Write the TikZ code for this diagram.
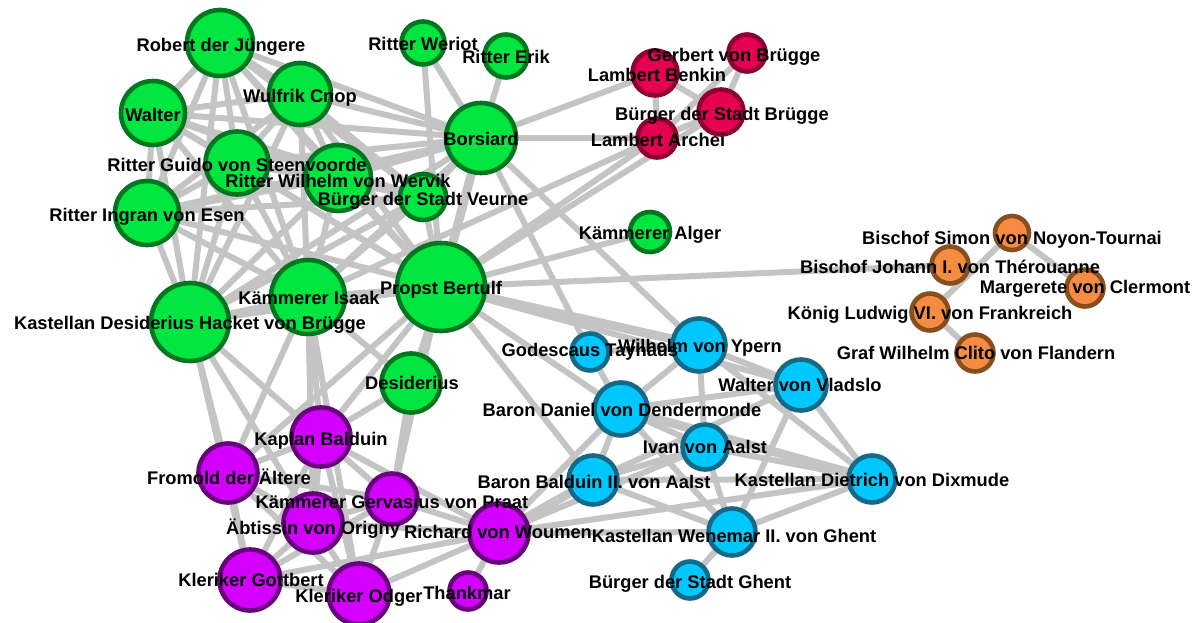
\documentclass[tikz,border=0pt]{standalone}
\usepackage{fontspec}
\setmainfont{Liberation Sans}
\definecolor{edgec}{RGB}{196,196,196}
\definecolor{gfill}{RGB}{0,230,64}
\definecolor{gline}{RGB}{0,118,32}
\definecolor{rfill}{RGB}{230,0,82}
\definecolor{rline}{RGB}{140,0,50}
\definecolor{pfill}{RGB}{212,0,255}
\definecolor{pline}{RGB}{105,0,125}
\definecolor{bfill}{RGB}{0,200,255}
\definecolor{bline}{RGB}{20,105,135}
\definecolor{ofill}{RGB}{245,140,66}
\definecolor{oline}{RGB}{135,78,30}
\pgfdeclarelayer{bg}
\pgfsetlayers{bg,main}
\tikzset{
  vx/.style={circle,draw,line width=4.6pt,inner sep=0pt},
  gv/.style={vx,fill=gfill,draw=gline},
  rv/.style={vx,fill=rfill,draw=rline},
  pv/.style={vx,fill=pfill,draw=pline},
  bv/.style={vx,fill=bfill,draw=bline},
  ov/.style={vx,fill=ofill,draw=oline},
  edge/.style={draw=edgec,line width=6pt},
  thick edge/.style={draw=edgec,line width=9pt},
  lbl/.style={font=\fontsize{18.3}{20}\selectfont\bfseries,text=black,inner sep=0pt,anchor=center}
}
\newcommand\vtx[5]{\node[#2,minimum size=#5pt] (#1) at (#3,#4) {};}
\begin{document}
\begin{tikzpicture}[x=1pt,y=-1pt]
\useasboundingbox (0,0) rectangle (1200,623);
% green
\vtx{rob}{gv}{220}{43}{66}
\vtx{wul}{gv}{300}{94}{62}
\vtx{wal}{gv}{153}{113}{64}
\vtx{gui}{gv}{237}{163}{63}
\vtx{wer}{gv}{338}{178}{66}
\vtx{veu}{gv}{423}{197}{46}
\vtx{ing}{gv}{147}{213}{64}
\vtx{kde}{gv}{190}{322}{78}
\vtx{isa}{gv}{308}{297}{74}
\vtx{ber}{gv}{441}{287}{88}
\vtx{bor}{gv}{481}{138}{70}
\vtx{wrt}{gv}{423}{43}{43}
\vtx{eri}{gv}{506}{56}{43}
\vtx{alg}{gv}{650}{232}{40}
\vtx{des}{gv}{411}{383}{59}
% red
\vtx{ben}{rv}{655}{73}{45}
\vtx{gbt}{rv}{747}{53}{37}
\vtx{brg}{rv}{721}{112}{45}
\vtx{arc}{rv}{657}{138}{39}
% orange
\vtx{sim}{ov}{1012}{233}{34}
\vtx{joh}{ov}{950}{265}{37}
\vtx{mar}{ov}{1085}{288}{37}
\vtx{lud}{ov}{930}{312}{37}
\vtx{cli}{ov}{975}{353}{37}
% blue
\vtx{ypr}{bv}{699}{345}{53}
\vtx{god}{bv}{590}{352}{37}
\vtx{vla}{bv}{801}{385}{51}
\vtx{dan}{bv}{621}{409}{53}
\vtx{iva}{bv}{705}{447}{45}
\vtx{bal}{bv}{593}{480}{49}
\vtx{die}{bv}{872}{479}{47}
\vtx{wen}{bv}{732}{532}{47}
\vtx{gh}{bv}{690}{580}{37}
% purple
\vtx{kap}{pv}{321}{437}{59}
\vtx{fro}{pv}{228}{473}{59}
\vtx{gvs}{pv}{392}{499}{51}
\vtx{abt}{pv}{313}{523}{59}
\vtx{ric}{pv}{499}{533}{59}
\vtx{got}{pv}{250}{580}{61}
\vtx{odg}{pv}{359}{594}{61}
\vtx{tha}{pv}{468}{591}{37}

\begin{pgfonlayer}{bg}
\fill[white] (0,0) rectangle (1200,623);
\foreach \a/\b in {rob/wal,rob/wul,rob/gui,rob/wer,rob/veu,rob/ing,rob/kde,rob/isa,rob/ber,rob/bor,
  wal/wul,wal/gui,wal/wer,wal/veu,wal/ing,wal/kde,wal/isa,wal/ber,wal/bor,
  wul/gui,wul/wer,wul/veu,wul/ing,wul/kde,wul/isa,wul/ber,wul/bor,
  gui/wer,gui/veu,gui/ing,gui/kde,gui/isa,gui/ber,gui/bor,
  wer/veu,wer/ing,wer/kde,wer/isa,wer/ber,wer/bor,
  veu/ing,veu/kde,veu/isa,veu/ber,veu/bor,
  ing/kde,ing/isa,ing/ber,ing/bor,
  kde/isa,kde/ber,kde/bor,isa/ber,isa/bor,
  wrt/bor,wrt/ber,eri/bor,
  bor/ben,bor/arc,ber/arc,ber/brg,isa/arc,ben/brg,gbt/brg,gbt/arc,ben/arc,brg/arc,
  ber/alg,ber/joh,sim/lud,sim/mar,lud/cli,
  ber/vla,ber/dan,ber/bal,bor/ypr,bor/god,
  ber/des,isa/des,des/kap,des/gvs,
  kde/fro,kde/kap,kde/got,kde/abt,isa/fro,isa/kap,isa/abt,isa/odg,ber/kap,ber/fro,ber/gvs,
  fro/kap,fro/abt,fro/got,fro/odg,fro/gvs,kap/abt,kap/gvs,kap/odg,kap/got,kap/ric,
  gvs/abt,gvs/ric,gvs/odg,gvs/got,abt/got,abt/odg,abt/ric,got/odg,got/ric,odg/ric,ric/tha,
  ric/dan,ric/wen,ric/die,ric/iva,
  god/ypr,god/dan,ypr/dan,ypr/vla,ypr/iva,ypr/die,dan/vla,dan/iva,dan/bal,dan/wen,
  iva/bal,iva/wen,iva/die,vla/die,vla/wen,vla/bal,bal/wen,bal/die,wen/die,wen/gh}
  {\draw[edge] (\a) -- (\b);}
\foreach \a/\b in {ber/bor,ber/ypr,dan/die,ric/bal}
  {\draw[thick edge] (\a) -- (\b);}
\end{pgfonlayer}

% labels
\node[lbl] (rob-t) at (221,47) {Robert der Jüngere};
\node[lbl] (wul-t) at (300,98) {Wulfrik Cnop};
\node[lbl] (wal-t) at (153,115) {Walter};
\node[lbl] (gui-t) at (237,165) {Ritter Guido von Steenvoorde};
\node[lbl] (wer-t) at (338,181) {Ritter Wilhelm von Wervik};
\node[lbl] (veu-t) at (423,201) {Bürger der Stadt Veurne};
\node[lbl] (ing-t) at (147,217) {Ritter Ingran von Esen};
\node[lbl] (kde-t) at (190,325) {Kastellan Desiderius Hacket von Brügge};
\node[lbl] (isa-t) at (309,298) {Kämmerer Isaak};
\node[lbl] (ber-t) at (441,290) {Propst Bertulf};
\node[lbl] (bor-t) at (481,139) {Borsiard};
\node[lbl] (wrt-t) at (423,44) {Ritter Weriot};
\node[lbl] (eri-t) at (506,57) {Ritter Erik};
\node[lbl] (alg-t) at (650,235) {Kämmerer Alger};
\node[lbl] (des-t) at (412,383) {Desiderius};
\node[lbl] (ben-t) at (657,75) {Lambert Benkin};
\node[lbl] (gbt-t) at (734,57) {Gerbert von Brügge};
\node[lbl] (brg-t) at (722,116) {Bürger der Stadt Brügge};
\node[lbl] (arc-t) at (658,140) {Lambert Archei};
\node[lbl] (sim-t) at (1012,240) {Bischof Simon von Noyon-Tournai};
\node[lbl] (joh-t) at (950,267) {Bischof Johann I. von Thérouanne};
\node[lbl] (mar-t) at (1085,289) {Margerete von Clermont};
\node[lbl] (lud-t) at (930,315) {König Ludwig VI. von Frankreich};
\node[lbl] (cli-t) at (976,353) {Graf Wilhelm Clito von Flandern};
\node[lbl] (god-t) at (590,352) {Godescaus Tayhaus};
\node[lbl] (ypr-t) at (700,348) {Wilhelm von Ypern};
\node[lbl] (vla-t) at (800,385) {Walter von Vladslo};
\node[lbl] (dan-t) at (622,410) {Baron Daniel von Dendermonde};
\node[lbl] (iva-t) at (705,447) {Ivan von Aalst};
\node[lbl] (bal-t) at (594,482) {Baron Balduin II. von Aalst};
\node[lbl] (die-t) at (872,480) {Kastellan Dietrich von Dixmude};
\node[lbl] (wen-t) at (734,536) {Kastellan Wenemar II. von Ghent};
\node[lbl] (gh-t) at (690,584) {Bürger der Stadt Ghent};
\node[lbl] (kap-t) at (321,441) {Kaplan Balduin};
\node[lbl] (fro-t) at (229,477) {Fromold der Ältere};
\node[lbl] (gvs-t) at (392,502) {Kämmerer Gervasius von Praat};
\node[lbl] (abt-t) at (313,529) {Äbtissin von Origny};
\node[lbl] (ric-t) at (498,532) {Richard von Woumen};
\node[lbl] (got-t) at (251,580) {Kleriker Gottbert};
\node[lbl] (odg-t) at (359,598) {Kleriker Odger};
\node[lbl] (tha-t) at (467,593) {Thankmar};
\end{tikzpicture}
\end{document}
